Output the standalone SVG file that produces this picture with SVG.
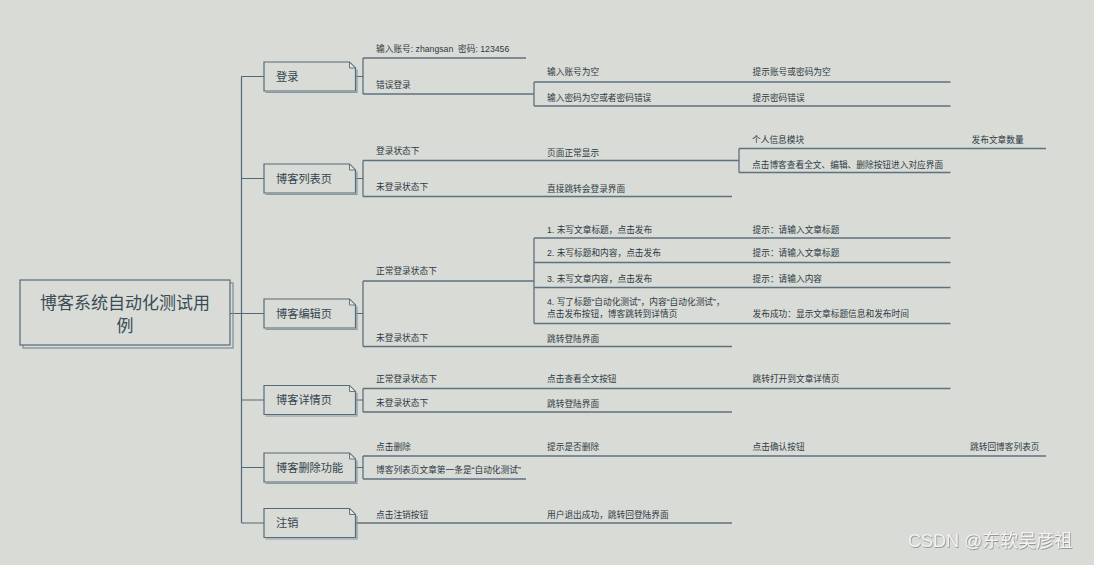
<svg xmlns="http://www.w3.org/2000/svg" xmlns:xlink="http://www.w3.org/1999/xlink" width="1094" height="565" viewBox="0 0 1094 565">
<style>
.bg{fill:#d9dbd6}
.box{fill:#d9dbd6;stroke:#566b79;stroke-width:1.2}
.sh{fill:none;stroke:#8a99a2;stroke-width:1.2}
.fold{fill:#e4e6e2;stroke:#566b79;stroke-width:0.9}
.c{fill:none;stroke:#536877;stroke-width:1.2}
.u{fill:none;stroke:#5d717f;stroke-width:1.4}
.t0{font-family:"Liberation Sans","Noto Sans CJK SC",sans-serif;font-size:17px;fill:#3a4b57;text-anchor:middle}
.t1{font-family:"Liberation Sans","Noto Sans CJK SC",sans-serif;font-size:11.2px;fill:#34444f}
.t2{font-family:"Liberation Sans","Noto Sans CJK SC",sans-serif;font-size:8.7px;fill:#2c3a44;white-space:pre}
.wm{font-family:"Liberation Sans","Noto Sans CJK SC",sans-serif;font-size:18px;fill:#f3f3f3}
</style>
<defs>
<g id="l1">
<path class="sh" d="M1.5,30.5 H93 V7.5"/>
<path class="box" d="M0,0 H85.5 L91.5,6 V29 H0 Z"/>
<path class="fold" d="M85.5,0 V6 H91.5 Z"/>
</g>
<filter id="ws" x="-5%" y="-20%" width="110%" height="140%">
<feDropShadow dx="0.6" dy="0.8" stdDeviation="0.5" flood-color="#7a7a7a" flood-opacity="0.9"/>
</filter>
</defs>
<rect class="bg" x="0" y="0" width="1094" height="565"/>

<g id="connectors">
<path class="c" d="M230,313.5 H241.5 M241.5,76.5 V523 M241.5,76.5 H264 M241.5,178.5 H264 M241.5,313.5 H264 M241.5,400 H264 M241.5,467.5 H264 M241.5,523 H264"/>
<path class="c" d="M355.5,76.5 H363 M363,58 V94 M534,82 V106"/>
<path class="u" d="M363,58 H526 M363,94 H534 M534,82 H950.5 M534,106 H950.5"/>
<path class="c" d="M355.5,178.5 H363 M363,160.5 V196.5 M739,148.5 V172.5"/>
<path class="u" d="M363,160.5 H739 M739,148.5 H1046 M739,172.5 H950.5 M363,196.5 H732"/>
<path class="c" d="M355.5,313.5 H363 M363,281 V346.5 M534,238 V323.5"/>
<path class="u" d="M363,281 H534 M534,238 H950.5 M534,262.5 H950.5 M534,287.5 H950.5 M534,323.5 H950.5 M363,346.5 H732"/>
<path class="c" d="M355.5,400 H363 M363,388.5 V412"/>
<path class="u" d="M363,388.5 H950.5 M363,412 H732"/>
<path class="c" d="M355.5,467.5 H363 M363,456 V479"/>
<path class="u" d="M363,456 H1046 M363,479 H526"/>
<path class="u" d="M355.5,523 H732"/>
</g>

<g id="root">
<rect class="sh" x="23" y="283" width="210" height="65" style="stroke:#7b8c96"/>
<rect class="box" x="20" y="280" width="210" height="65"/>
<text class="t0" x="125" y="308.8">博客系统自动化测试用</text>
<text class="t0" x="125" y="331.5">例</text>
</g>

<g id="n-login">
<use xlink:href="#l1" x="264" y="62"/>
<text class="t1" x="276" y="80.5">登录</text>
<text class="t2" x="376" y="52.3">输入账号: zhangsan  密码: 123456</text>
<text class="t2" x="376" y="88.3">错误登录</text>
<text class="t2" x="547" y="75">输入账号为空</text>
<text class="t2" x="752.5" y="75">提示账号或密码为空</text>
<text class="t2" x="547" y="101">输入密码为空或者密码错误</text>
<text class="t2" x="752.5" y="101">提示密码错误</text>
</g>

<g id="n-list">
<use xlink:href="#l1" x="264" y="164"/>
<text class="t1" x="276" y="182.7">博客列表页</text>
<text class="t2" x="376" y="154.3">登录状态下</text>
<text class="t2" x="376" y="190">未登录状态下</text>
<text class="t2" x="547" y="155.6">页面正常显示</text>
<text class="t2" x="752" y="142.6">个人信息模块</text>
<text class="t2" x="971.5" y="142.6">发布文章数量</text>
<text class="t2" x="752" y="168.3">点击博客查看全文、编辑、删除按钮进入对应界面</text>
<text class="t2" x="547" y="191.6">直接跳转会登录界面</text>
</g>

<g id="n-edit">
<use xlink:href="#l1" x="264" y="299"/>
<text class="t1" x="276" y="317.7">博客编辑页</text>
<text class="t2" x="376" y="274.3">正常登录状态下</text>
<text class="t2" x="376" y="341">未登录状态下</text>
<text class="t2" x="547" y="232.6">1. 未写文章标题，点击发布</text>
<text class="t2" x="752.5" y="232.6">提示：请输入文章标题</text>
<text class="t2" x="547" y="256">2. 未写标题和内容，点击发布</text>
<text class="t2" x="752.5" y="256">提示：请输入文章标题</text>
<text class="t2" x="547" y="281.6">3. 未写文章内容，点击发布</text>
<text class="t2" x="752.5" y="281.6">提示：请输入内容</text>
<text class="t2" x="547" y="305">4. 写了标题“自动化测试”，内容“自动化测试”，</text>
<text class="t2" x="547" y="317.3">点击发布按钮，博客跳转到详情页</text>
<text class="t2" x="752.5" y="317.3">发布成功：显示文章标题信息和发布时间</text>
<text class="t2" x="547" y="341.6">跳转登陆界面</text>
</g>

<g id="n-detail">
<use xlink:href="#l1" x="264" y="385.5"/>
<text class="t1" x="276" y="404.2">博客详情页</text>
<text class="t2" x="376" y="382.3">正常登录状态下</text>
<text class="t2" x="547" y="382.3">点击查看全文按钮</text>
<text class="t2" x="752.5" y="382.3">跳转打开到文章详情页</text>
<text class="t2" x="376" y="406">未登录状态下</text>
<text class="t2" x="547" y="406.6">跳转登陆界面</text>
</g>

<g id="n-delete">
<use xlink:href="#l1" x="264" y="453"/>
<text class="t1" x="276" y="471.7">博客删除功能</text>
<text class="t2" x="376" y="450">点击删除</text>
<text class="t2" x="547" y="450">提示是否删除</text>
<text class="t2" x="752.5" y="450">点击确认按钮</text>
<text class="t2" x="970" y="450">跳转回博客列表页</text>
<text class="t2" x="376" y="473.3">博客列表页文章第一条是“自动化测试”</text>
</g>

<g id="n-logout">
<use xlink:href="#l1" x="264" y="508.5"/>
<text class="t1" x="276" y="527.2">注销</text>
<text class="t2" x="376" y="517.6">点击注销按钮</text>
<text class="t2" x="547" y="517.6">用户退出成功，跳转回登陆界面</text>
</g>

<text class="wm" x="908" y="546.5" filter="url(#ws)">CSDN @东软吴彦祖</text>
</svg>
